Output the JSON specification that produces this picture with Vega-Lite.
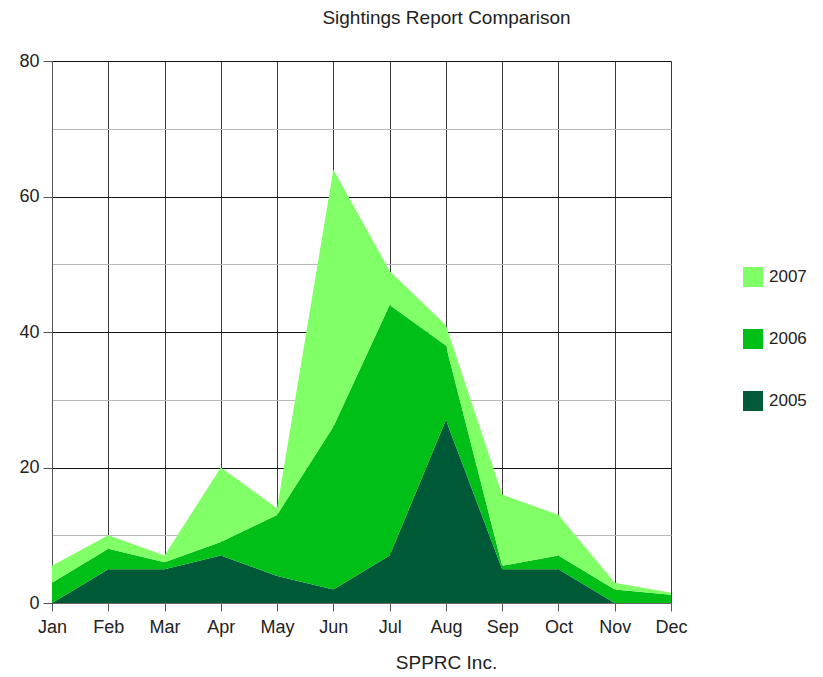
{
  "$schema": "https://vega.github.io/schema/vega-lite/v6.json",
  "width": 619,
  "height": 542,
  "autosize": {"type": "none"},
  "padding": {"left": 52, "top": 61, "right": 152, "bottom": 74},
  "background": "white",
  "title": {
    "text": "Sightings Report Comparison",
    "font": "Liberation Sans",
    "fontSize": 19,
    "fontWeight": "normal",
    "color": "#222222",
    "anchor": "middle",
    "offset": 24,
    "dx": 85
  },
  "data": {
    "values": [
      {"month": "Jan", "year": 2005, "value": 0},
      {"month": "Feb", "year": 2005, "value": 5},
      {"month": "Mar", "year": 2005, "value": 5},
      {"month": "Apr", "year": 2005, "value": 7},
      {"month": "May", "year": 2005, "value": 4},
      {"month": "Jun", "year": 2005, "value": 2},
      {"month": "Jul", "year": 2005, "value": 7},
      {"month": "Aug", "year": 2005, "value": 27},
      {"month": "Sep", "year": 2005, "value": 5},
      {"month": "Oct", "year": 2005, "value": 5},
      {"month": "Nov", "year": 2005, "value": 0},
      {"month": "Dec", "year": 2005, "value": 0},
      {"month": "Jan", "year": 2006, "value": 3},
      {"month": "Feb", "year": 2006, "value": 3},
      {"month": "Mar", "year": 2006, "value": 1},
      {"month": "Apr", "year": 2006, "value": 2},
      {"month": "May", "year": 2006, "value": 9},
      {"month": "Jun", "year": 2006, "value": 24},
      {"month": "Jul", "year": 2006, "value": 37},
      {"month": "Aug", "year": 2006, "value": 11},
      {"month": "Sep", "year": 2006, "value": 0.5},
      {"month": "Oct", "year": 2006, "value": 2},
      {"month": "Nov", "year": 2006, "value": 2},
      {"month": "Dec", "year": 2006, "value": 1.2},
      {"month": "Jan", "year": 2007, "value": 2.5},
      {"month": "Feb", "year": 2007, "value": 2},
      {"month": "Mar", "year": 2007, "value": 1},
      {"month": "Apr", "year": 2007, "value": 11},
      {"month": "May", "year": 2007, "value": 1},
      {"month": "Jun", "year": 2007, "value": 38},
      {"month": "Jul", "year": 2007, "value": 5},
      {"month": "Aug", "year": 2007, "value": 3},
      {"month": "Sep", "year": 2007, "value": 10.5},
      {"month": "Oct", "year": 2007, "value": 6},
      {"month": "Nov", "year": 2007, "value": 1},
      {"month": "Dec", "year": 2007, "value": 0.3}
    ]
  },
  "mark": {"type": "area", "interpolate": "linear", "opacity": 1},
  "encoding": {
    "x": {
      "field": "month",
      "type": "ordinal",
      "sort": ["Jan", "Feb", "Mar", "Apr", "May", "Jun", "Jul", "Aug", "Sep", "Oct", "Nov", "Dec"],
      "scale": {"type": "point", "padding": 0},
      "axis": {
        "title": "SPPRC Inc.",
        "titleFont": "Liberation Sans",
        "titleFontSize": 19,
        "titleFontWeight": "normal",
        "titleColor": "#222222",
        "titleX": 394,
        "titleY": 50,
        "titleBaseline": "top",
        "labelAngle": 0,
        "labelFont": "Liberation Sans",
        "labelFontSize": 18,
        "labelColor": "#222222",
        "labelPadding": 7,
        "tickSize": 8,
        "tickColor": "#555555",
        "domainColor": "#666666",
        "grid": true,
        "gridColor": "#3a3a3a",
        "gridWidth": 1
      }
    },
    "y": {
      "field": "value",
      "type": "quantitative",
      "stack": "zero",
      "scale": {"domain": [0, 80], "nice": false},
      "axis": {
        "title": null,
        "values": [0, 10, 20, 30, 40, 50, 60, 70, 80],
        "labelExpr": "datum.value % 20 === 0 ? datum.label : ''",
        "labelFont": "Liberation Sans",
        "labelFontSize": 18,
        "labelColor": "#222222",
        "labelPadding": 4,
        "tickSize": 9,
        "tickColor": {"condition": {"test": "datum.value % 20 === 0", "value": "#555555"}, "value": "transparent"},
        "domainColor": "#555555",
        "grid": true,
        "gridColor": {"condition": {"test": "datum.value % 20 === 0", "value": "#111111"}, "value": "#b8b8b8"},
        "gridWidth": 1
      }
    },
    "color": {
      "field": "year",
      "type": "nominal",
      "scale": {"domain": [2007, 2006, 2005], "range": ["#80FF66", "#00C018", "#005A38"]},
      "legend": {
        "title": null,
        "orient": "none",
        "legendX": 691,
        "legendY": 206,
        "padding": 0,
        "symbolType": "square",
        "symbolSize": 400,
        "symbolStrokeWidth": 0,
        "symbolOpacity": 1,
        "labelFont": "Liberation Sans",
        "labelFontSize": 17,
        "labelColor": "#222222",
        "labelOffset": 6,
        "rowPadding": 42
      }
    },
    "order": {"field": "year", "type": "quantitative", "sort": "ascending"}
  },
  "config": {"view": {"stroke": null}}
}
